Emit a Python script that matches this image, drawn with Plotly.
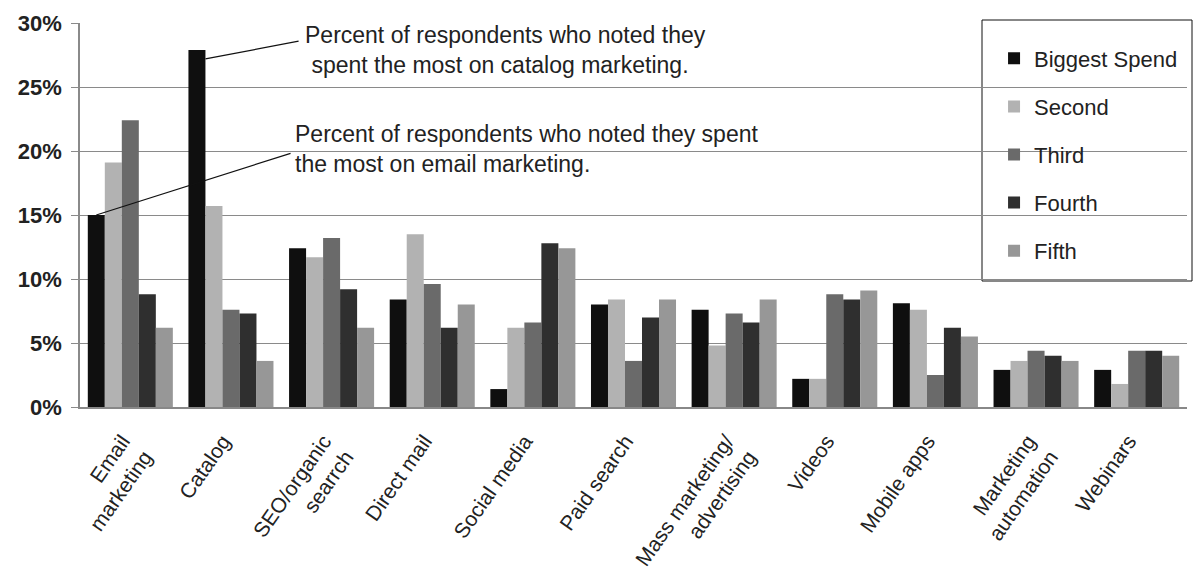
import plotly.graph_objects as go

categories = ["Email<br>marketing", "Catalog", "SEO/organic<br>searrch", "Direct mail",
              "Social media", "Paid search", "Mass marketing/<br>advertising", "Videos",
              "Mobile apps", "Marketing<br>automation", "Webinars"]
series_names = ["Biggest Spend", "Second", "Third", "Fourth", "Fifth"]
biggest = [15.0, 27.9, 12.4, 8.4, 1.4, 8.0, 7.6, 2.2, 8.1, 2.9, 2.9]
second = [19.1, 15.7, 11.7, 13.5, 6.2, 8.4, 4.8, 2.2, 7.6, 3.6, 1.8]
third = [22.4, 7.6, 13.2, 9.6, 6.6, 3.6, 7.3, 8.8, 2.5, 4.4, 4.4]
fourth = [8.8, 7.3, 9.2, 6.2, 12.8, 7.0, 6.6, 8.4, 6.2, 4.0, 4.4]
fifth = [6.2, 3.6, 6.2, 8.0, 12.4, 8.4, 8.4, 9.1, 5.5, 3.6, 4.0]
y_tick_vals = [0, 5, 10, 15, 20, 25, 30]
y_tick_labels = ["0%", "5%", "10%", "15%", "20%", "25%", "30%"]

colors = ["#0f0f0f", "#b2b2b2", "#6a6a6a", "#2f2f2f", "#979797"]
FONT = "Liberation Sans, Arial, sans-serif"

fig = go.Figure()
for i, (name, vals) in enumerate(zip(series_names, [biggest, second, third, fourth, fifth])):
    fig.add_trace(go.Bar(x=categories, y=vals, name=name, legendgroup=name,
                         marker=dict(color=colors[i], line=dict(width=0))))

# callout annotations: arrow lines (data coords) + text
bar_w = (1 - 0.155) / 5
fig.add_annotation(x=1 - 2 * bar_w + bar_w / 2, y=27.2, ax=1.687, ay=28.6,
                   xref="x", yref="y", axref="x", ayref="y", text="",
                   showarrow=True, arrowhead=0, arrowwidth=1.2, arrowcolor="#111")
fig.add_annotation(x=-2 * bar_w, y=15.0, ax=1.607, ay=19.85,
                   xref="x", yref="y", axref="x", ayref="y", text="",
                   showarrow=True, arrowhead=0, arrowwidth=1.2, arrowcolor="#111")
fig.add_annotation(x=1.717, y=27.9, xref="x", yref="y", xanchor="left", yanchor="middle",
                   align="left", showarrow=False,
                   text="Percent of respondents who noted they<br> spent the most on catalog marketing.",
                   font=dict(family=FONT, size=23, color="#222"))
fig.add_annotation(x=1.617, y=20.16, xref="x", yref="y", xanchor="left", yanchor="middle",
                   align="left", showarrow=False,
                   text="Percent of respondents who noted they spent<br>the most on email marketing.",
                   font=dict(family=FONT, size=23, color="#222"))

# legend box
fig.add_shape(type="rect", xref="paper", yref="paper", x0=(982 - 80) / 1107, x1=(1192 - 80) / 1107,
              y0=(407 - 281) / 384, y1=(407 - 20) / 384,
              line=dict(color="#111", width=1), fillcolor="white", layer="below")

fig.update_layout(
    width=1197, height=576,
    margin=dict(l=80, r=10, t=23, b=169, autoexpand=False),
    paper_bgcolor="white", plot_bgcolor="white",
    barmode="group", bargap=0.155, bargroupgap=0,
    font=dict(family=FONT, color="#222"),
    showlegend=True,
    legend=dict(x=0.8257, y=(407 - 37.5) / 384, xanchor="left", yanchor="top",
                bgcolor="rgba(0,0,0,0)", borderwidth=0,
                font=dict(family=FONT, size=22, color="#222"),
                tracegroupgap=16.5, itemsizing="constant"),
    xaxis=dict(showline=True, linecolor="#888", linewidth=1.5, ticks="",
               tickangle=-55, tickfont=dict(family=FONT, size=21, color="#222"),
               ticklabelstandoff=12, ticklabelshift=-8, automargin=False),
    yaxis=dict(range=[0, 30], tickvals=y_tick_vals, ticktext=y_tick_labels,
               showgrid=True, gridcolor="#8a8a8a", gridwidth=1.2,
               showline=True, linecolor="#8a8a8a", linewidth=1.5,
               ticks="outside", ticklen=7, tickcolor="#8a8a8a", tickwidth=1.2,
               tickfont=dict(family=FONT, size=22, color="#222", weight="bold"),
               ticklabelstandoff=5, zeroline=False, automargin=False),
)

fig.write_html("out.html", config={"displayModeBar": False},
               post_script="document.body.style.margin='0';document.body.style.overflow='hidden';")
